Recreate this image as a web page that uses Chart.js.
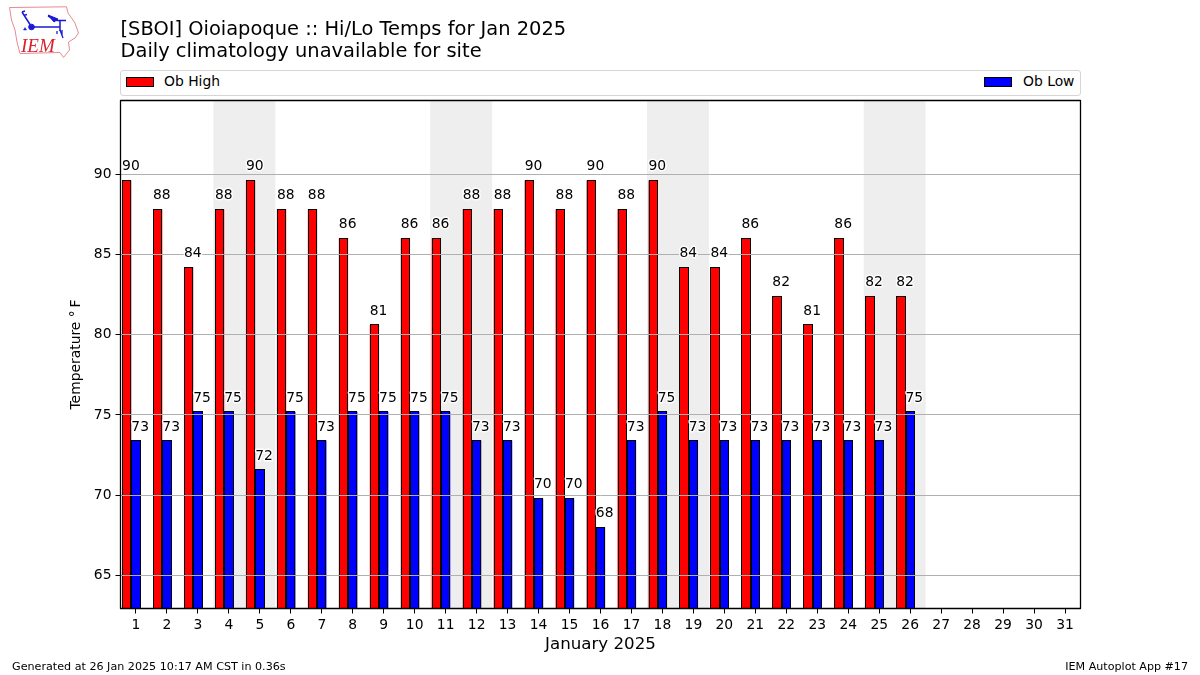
<!DOCTYPE html>
<html>
<head>
<meta charset="utf-8">
<script src="https://cdn.jsdelivr.net/npm/chart.js@4"></script>
<style>
html,body{margin:0;padding:0;background:#fff;}
body{width:1200px;height:675px;position:relative;overflow:hidden;font-family:"DejaVu Sans",sans-serif;color:#000;}
canvas{position:absolute;left:0;top:0;}
.abs{position:absolute;white-space:nowrap;}
#legend{left:120px;top:70px;width:959px;height:24px;border:1px solid #d5d5d5;border-radius:3px;background:#fff;font-size:13.89px;}
.sw{position:absolute;top:6px;width:26px;height:8px;border:1px solid #000;}
.lt{position:absolute;top:2px;line-height:16px;}
</style>
</head>
<body>
<canvas id="c" width="1200" height="675"></canvas>
<svg class="abs" style="left:0;top:0" width="90" height="65" viewBox="0 0 90 65">
  <path d="M9.5 7.5 L66.5 6.8 L68 13 L75 23 L78.5 33 L75 38 L68.5 42 L69.5 50 L63.5 57.5 L60 52.5 L20 53.5 L17 42 L15 30 L11.5 20 Z" fill="none" stroke="#e58a92" stroke-width="1"/>
  <g stroke="#1a1ad6" fill="#1a1ad6">
    <path d="M31.5 27 H60 M60 20 V31 M48 16 L57 20.5 H66 M22 12 L31 26 M22 12 L25 11 M23.5 15.5 L27 14.5" stroke-width="1.5" fill="none"/>
    <circle cx="31.5" cy="27" r="2.8"/>
    <path d="M48 15 L58 19 L54 22 Z"/>
    <path d="M60 30 L63 38 M57 31 V34 M62 30 V35" stroke-width="1.3" fill="none"/>
    <path d="M25 27.5 L26.5 30 H23.5 Z" stroke-width="0.5"/>
  </g>
  <text x="21" y="52" font-family="Liberation Serif" font-style="italic" font-size="19" fill="#d8222c">IEM</text>
</svg>
<div id="legend" class="abs">
  <div class="sw" id="sw0" style="left:5px"></div><div class="lt" id="lt0" style="left:43px"></div>
  <div class="sw" id="sw1" style="left:863px"></div><div class="lt" id="lt1" style="left:902px"></div>
</div>
<div class="abs" style="left:12px;top:660px;font-size:11.15px;line-height:14px">Generated at 26 Jan 2025 10:17 AM CST in 0.36s</div>
<div class="abs" style="right:12px;top:660px;font-size:11.11px;line-height:14px">IEM Autoplot App #17</div>
<script>
const days = ["1","2","3","4","5","6","7","8","9","10","11","12","13","14","15","16","17","18","19","20","21","22","23","24","25","26","27","28","29","30","31"];
const highValues = [89.6,87.8,84.2,87.8,89.6,87.8,87.8,86,80.6,86,86,87.8,87.8,89.6,87.8,89.6,87.8,89.6,84.2,84.2,86,82.4,80.6,86,82.4,82.4,null,null,null,null,null];
const lowValues = [73.4,73.4,75.2,75.2,71.6,75.2,73.4,75.2,75.2,75.2,75.2,73.4,73.4,69.8,69.8,68,73.4,75.2,73.4,73.4,73.4,73.4,73.4,73.4,73.4,75.2,null,null,null,null,null];
const highLabels = [90,88,84,88,90,88,88,86,81,86,86,88,88,90,88,90,88,90,84,84,86,82,81,86,82,82];
const lowLabels = [73,73,75,75,72,75,73,75,75,75,75,73,73,70,70,68,73,75,73,73,73,73,73,73,73,75];
const weekendSpans = [[4,5],[11,12],[18,19],[25,26]];
const seriesNames = ["Ob High","Ob Low"];
const seriesColors = ["#ff0000","#0000ff"];
const yTicks = [65,70,75,80,85,90];
const titleLines = ["[SBOI] Oioiapoque :: Hi/Lo Temps for Jan 2025","Daily climatology unavailable for site"];

seriesNames.forEach((n,i)=>{
  document.getElementById('lt'+i).textContent=n;
  document.getElementById('sw'+i).style.background=seriesColors[i];
});
const FONT='"DejaVu Sans", sans-serif';

const bands={id:'bands',beforeDatasetsDraw(ch){
  const {ctx,chartArea:a,scales:{x}}=ch;
  const step=x.getPixelForValue(1)-x.getPixelForValue(0);
  ctx.save();ctx.fillStyle='#eeeeee';
  weekendSpans.forEach(([s,e])=>{
    const l=x.getPixelForValue(s-1)-step/2,r=x.getPixelForValue(e-1)+step/2;
    ctx.fillRect(l,a.top,r-l,a.bottom-a.top);
  });
  ctx.restore();
},afterDatasetsDraw(ch){
  const {ctx,chartArea:a}=ch;
  ctx.save();ctx.strokeStyle='#000';ctx.lineWidth=1;
  [highValues,lowValues].forEach((vals,d)=>{
    ch.getDatasetMeta(d).data.forEach((b,i)=>{
      if(vals[i]===null) return;
      const l=Math.round(b.x-b.width/2)+0.5,r=Math.round(b.x+b.width/2)-0.5,t=Math.floor(b.y)+0.5;
      ctx.strokeRect(l,t,r-l,a.bottom-t);
    });
  });
  ctx.restore();
}};
const labels={id:'vlabels',afterDraw(ch){
  const {ctx,chartArea:a}=ch;
  ctx.save();
  ctx.font='13.89px '+FONT;ctx.textAlign='left';ctx.textBaseline='alphabetic';
  ctx.lineJoin='round';
  [highLabels,lowLabels].forEach((arr,d)=>{
    const m=ch.getDatasetMeta(d);
    arr.forEach((t,i)=>{
      const b=m.data[i];const px=b.x-b.width/2,py=b.y-10;
      ctx.strokeStyle='rgba(255,255,255,0.9)';ctx.lineWidth=3;ctx.strokeText(String(t),px,py);
      ctx.fillStyle='#000';ctx.fillText(String(t),px,py);
    });
  });
  ctx.strokeStyle='#000';ctx.lineWidth=1.3;
  ctx.strokeRect(a.left,a.top,a.right-a.left,a.bottom-a.top);
  ctx.restore();
}};

new Chart(document.getElementById('c'),{
  type:'bar',
  data:{labels:days,datasets:[
    {label:seriesNames[0],data:highValues,backgroundColor:seriesColors[0],borderWidth:0,inflateAmount:0},
    {label:seriesNames[1],data:lowValues,backgroundColor:seriesColors[1],borderWidth:0,inflateAmount:0},
    {label:'',data:[],backgroundColor:'rgba(0,0,0,0)',borderWidth:0}
  ]},
  plugins:[bands,labels],
  options:{
    responsive:false,animation:false,devicePixelRatio:1,
    layout:{padding:{left:68.5,right:119.5,top:19.5,bottom:19.5}},
    datasets:{bar:{categoryPercentage:0.9,barPercentage:1}},
    plugins:{
      legend:{display:false},tooltip:{enabled:false},
      title:{display:true,text:titleLines,align:'start',fullSize:false,color:'#000',
        font:{family:FONT,size:19.44,weight:'normal',lineHeight:1.11},padding:{top:0,bottom:37.84}}
    },
    scales:{
      x:{type:'category',offset:true,
        afterFit(s){s.height=47;},
        grid:{display:true,drawOnChartArea:false,drawTicks:true,offset:false,tickLength:5,tickColor:'#000',tickWidth:1},
        border:{width:0},
        ticks:{color:'#000',font:{family:FONT,size:13.89},padding:4,maxRotation:0,autoSkip:false},
        title:{display:true,text:'January 2025',color:'#000',font:{family:FONT,size:16.67},padding:{top:3,bottom:1}}
      },
      y:{type:'linear',min:62.945,max:94.577,
        afterFit(s){s.width=52;},
        afterBuildTicks(s){s.ticks=yTicks.map(v=>({value:v}));},
        grid:{z:1,color:'#b0b0b0',lineWidth:1,tickLength:5,tickColor:'#000'},
        border:{width:0},
        ticks:{color:'#000',font:{family:FONT,size:13.89},padding:4,includeBounds:false},
        title:{display:true,text:'Temperature °\u2009F',color:'#000',font:{family:FONT,size:13.89},padding:{top:0,bottom:0}}
      }
    }
  }
});
</script>
</body>
</html>
